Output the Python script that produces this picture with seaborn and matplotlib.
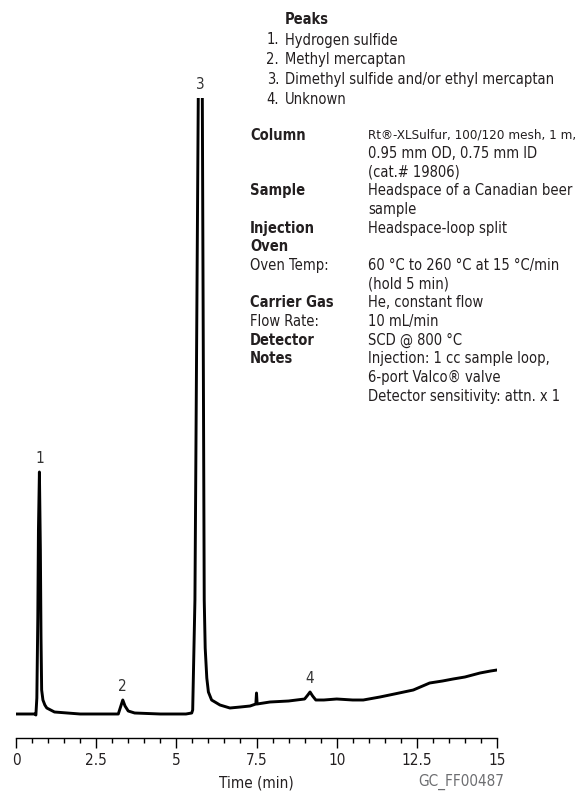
import numpy as np
import pandas as pd
import seaborn as sns
import matplotlib.pyplot as plt

# chromatogram trace (time in min, detector signal in arbitrary units)
time = [0.00, 0.30, 0.60, 0.62, 0.65, 0.68, 0.70, 0.73, 0.76, 0.78, 0.80, 0.84, 0.90, 0.96, 1.20, 1.60,
        2.00, 3.00, 3.19, 3.27, 3.33, 3.40, 3.50, 3.70, 4.50, 5.30, 5.48, 5.51, 5.58,
        5.685, 5.81, 5.87, 5.90, 5.95, 6.00, 6.10, 6.36, 6.67, 7.00, 7.30, 7.48, 7.50, 7.52,
        7.92, 8.50, 9.00, 9.10, 9.17, 9.25, 9.35, 9.60, 10.00, 10.50, 10.83, 11.35,
        11.80, 12.39, 12.90, 13.30, 13.63, 14.00, 14.47, 14.80, 15.00]
signal = [24, 24, 24, 23, 40, 120, 208, 266, 188, 100, 48, 38, 33, 30, 26, 25,
          24, 24, 24, 32, 38, 32, 27, 25, 24, 24, 25, 28, 138,
          645, 645, 138, 90, 60, 46, 38, 33, 30, 31, 32, 34, 45, 34,
          36, 37, 39, 43, 46, 42, 38, 38, 39, 38, 38, 41,
          44, 48, 55, 57, 59, 61, 65, 67, 68]

peak_labels = ['1', '2', '3', '4']
peak_times = [0.73, 3.33, 5.74, 9.17]

tick_values = [0, 2.5, 5, 7.5, 10, 12.5, 15]
tick_labels = ['0', '2.5', '5', '7.5', '10', '12.5', '15']

peak_names = ['Hydrogen sulfide', 'Methyl mercaptan',
              'Dimethyl sulfide and/or ethyl mercaptan', 'Unknown']

cond_labels = ['Column', '', '', 'Sample', '', 'Injection', 'Oven', 'Oven Temp:', '',
               'Carrier Gas', 'Flow Rate:', 'Detector', 'Notes', '', '']
cond_bold = [True, False, False, True, False, True, True, False, False,
             True, False, True, True, False, False]
cond_values = ['Rt®-XLSulfur, 100/120 mesh, 1 m,', '0.95 mm OD, 0.75 mm ID', '(cat.# 19806)',
               'Headspace of a Canadian beer', 'sample', 'Headspace-loop split', '',
               '60 °C to 260 °C at 15 °C/min', '(hold 5 min)', 'He, constant flow',
               '10 mL/min', 'SCD @ 800 °C', 'Injection: 1 cc sample loop,',
               '6-port Valco® valve', 'Detector sensitivity: attn. x 1']

df = pd.DataFrame({'time': time, 'signal': signal})

sns.set_style('white')
plt.rcParams['font.family'] = ['DejaVu Sans']
plt.rcParams['font.stretch'] = 'condensed'
txt = '#231f20'

W, H = 583, 792
fig = plt.figure(figsize=(W / 100, H / 100), dpi=100)
ax = fig.add_axes([16 / W, 1 - 738 / H, (497 - 16) / W, (738 - 98) / H])

sns.lineplot(data=df, x='time', y='signal', ax=ax, color='black', linewidth=2.1,
             estimator=None, sort=False)

ax.set_xlim(0, 15)
ax.set_ylim(0, 640)
ax.set_yticks([])
ax.set_ylabel('')
for s in ['left', 'right', 'top']:
    ax.spines[s].set_visible(False)
ax.spines['bottom'].set_color('black')
ax.spines['bottom'].set_linewidth(1.0)
ax.set_xticks(tick_values)
ax.set_xticklabels(tick_labels)
ax.set_xticks(np.arange(0, 15.01, 0.5), minor=True)
ax.tick_params(axis='x', which='major', length=7.5, width=1.0, color='black',
               labelsize=11, labelcolor=txt, pad=3, bottom=True)
ax.tick_params(axis='x', which='minor', length=3.5, width=1.0, color='black', bottom=True)
ax.set_xlabel('Time (min)', fontsize=11, color=txt, labelpad=6)

# peak numbers
ymax = ax.get_ylim()[1]
for lab, t in zip(peak_labels, peak_times):
    near = df[(df.time > t - 0.2) & (df.time < t + 0.2)].signal.max()
    ax.annotate(lab, (t, min(near, ymax)), xytext=(0, 4), textcoords='offset points',
                ha='center', va='bottom', fontsize=11, color='#333333',
                annotation_clip=False)

def px(x, y):
    return x / W, 1 - y / H

fs = 10.5
fig.text(*px(285, 20), 'Peaks', fontsize=fs, fontweight='bold', color=txt, va='center')
for i, name in enumerate(peak_names):
    y = 40 + i * 19.8
    fig.text(*px(279, y), f'{i + 1}.', fontsize=fs, color=txt, va='center', ha='right')
    fig.text(*px(285, y), name, fontsize=fs, color=txt, va='center')

for i, (lab, b, val) in enumerate(zip(cond_labels, cond_bold, cond_values)):
    y = 135 + i * 18.65
    if lab:
        fig.text(*px(250, y), lab, fontsize=fs, color=txt, va='center',
                 fontweight='bold' if b else 'normal')
    if val:
        # the longest line is set a bit smaller so it stays inside the figure
        size = 9.6 if len(val) > 31 else fs
        fig.text(*px(368, y), val, fontsize=size, color=txt, va='center')

fig.text(*px(504, 782), 'GC_FF00487', fontsize=11, color='#6d6e71', ha='right', va='center')

fig.savefig('out.png', dpi=100)
